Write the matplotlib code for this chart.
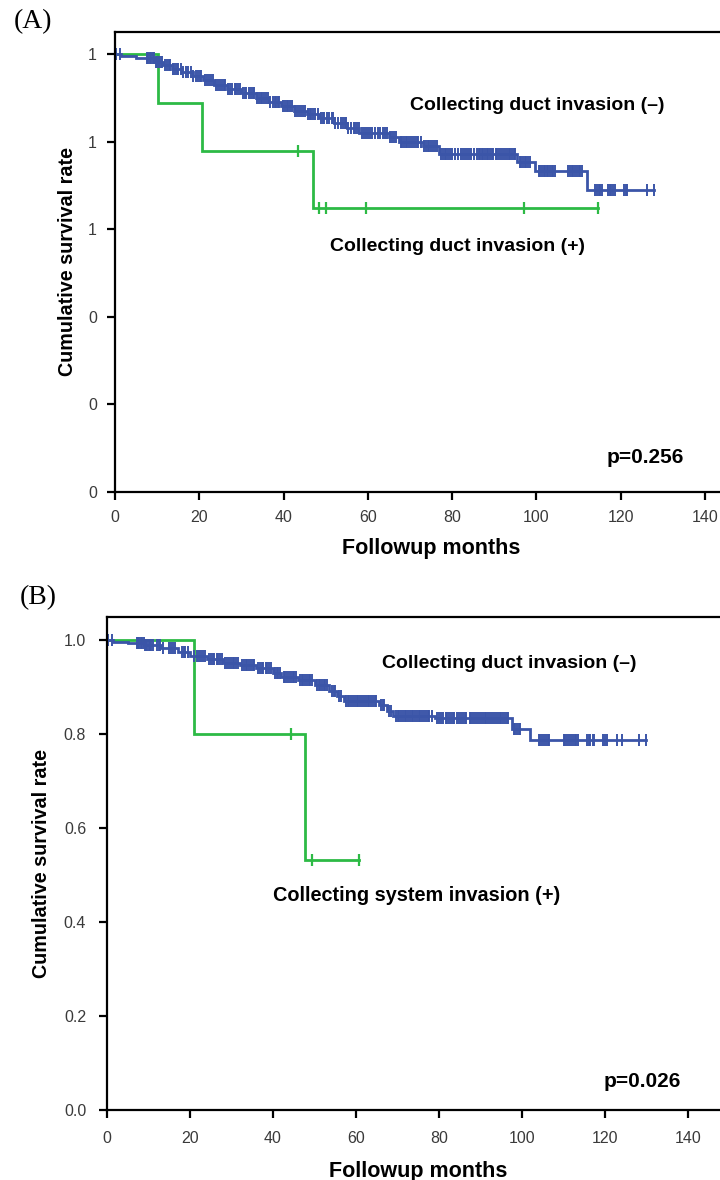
import numpy as np
import matplotlib
matplotlib.use("Agg")
import matplotlib.pyplot as plt

# ---------------- Panel A: collecting duct invasion ----------------
a_neg_times = [0, 1.5, 5.0, 9.5, 11.5, 13.5, 16.0, 18.5, 21.0, 23.5, 26.5, 30.0,
               33.5, 36.5, 39.5, 42.5, 45.5, 48.5, 52.0, 55.0, 58.0, 65.0, 67.5,
               73.0, 77.0, 95.4, 99.7, 112.0]
a_neg_surv = [1.0, 0.996, 0.991, 0.982, 0.974, 0.966, 0.958, 0.950, 0.940, 0.930,
              0.920, 0.910, 0.900, 0.891, 0.880, 0.870, 0.862, 0.853, 0.843, 0.832,
              0.820, 0.811, 0.800, 0.790, 0.771, 0.753, 0.732, 0.689]
a_neg_cens = [0.3, 1.2, 7.5, 7.9, 8.2, 8.6, 8.9, 9.3, 9.7, 10.0, 10.4, 10.8, 11.1,
              11.9, 12.3, 12.7, 13.0, 13.8, 14.2, 14.7, 15.0, 15.6, 16.1, 16.8, 17.4,
              18.0, 18.6, 19.2, 19.7, 20.1, 20.5, 21.4, 21.9, 22.4, 22.8, 23.3, 23.9,
              24.5, 25.0, 25.3, 25.8, 26.0, 26.7, 27.2, 27.8, 28.4, 28.8, 29.1, 29.6,
              30.4, 30.8, 31.2, 31.8, 32.3, 32.7, 33.0, 33.6, 34.1, 34.6, 35.0, 35.4,
              35.8, 36.2, 36.9, 37.5, 37.9, 38.2, 38.6, 39.0, 39.8, 40.3, 40.7, 41.1,
              41.6, 42.0, 42.8, 43.2, 43.7, 44.1, 44.6, 45.0, 45.8, 46.2, 46.6, 47.0,
              47.5, 48.1, 48.8, 49.3, 49.7, 50.2, 50.7, 51.4, 51.8, 52.3, 52.9, 53.6,
              54.0, 54.5, 54.9, 55.3, 56.0, 56.6, 57.0, 57.4, 57.8, 58.5, 59.0, 59.6,
              60.1, 60.5, 61.0, 61.8, 62.4, 63.0, 63.6, 64.1, 64.6, 65.2, 65.7, 66.3,
              66.8, 67.9, 68.2, 68.6, 69.0, 69.4, 69.8, 70.2, 70.7, 71.2, 71.6, 72.0,
              72.5, 73.4, 73.8, 74.2, 74.6, 75.0, 75.5, 76.0, 76.5, 77.4, 77.8, 78.2,
              78.6, 79.0, 79.5, 80.0, 80.8, 81.3, 82.0, 82.6, 83.1, 83.6, 84.0, 84.5,
              85.2, 85.8, 86.3, 86.7, 87.0, 87.4, 87.8, 88.2, 88.6, 89.0, 89.4, 89.8,
              90.3, 90.7, 91.1, 91.5, 92.0, 92.5, 93.0, 93.4, 93.8, 94.2, 94.6, 95.0,
              96.0, 96.4, 96.8, 97.2, 97.6, 98.0, 98.4, 100.5, 100.9, 101.3, 101.7,
              102.0, 102.4, 102.8, 103.2, 103.6, 104.0, 104.5, 107.6, 108.0, 108.4,
              108.8, 109.2, 109.6, 110.0, 110.4, 110.8, 114.0, 114.4, 114.8, 115.2,
              115.6, 117.0, 117.4, 117.8, 118.2, 118.6, 120.9, 121.3, 121.6, 126.2,
              127.8]
a_pos_times = [0, 10.2, 20.7, 47.0]
a_pos_surv = [1.0, 0.889, 0.778, 0.648]
a_pos_cens = [43.5, 48.3, 50.1, 59.5, 97.0, 114.7]

# ---------------- Panel B: collecting system invasion ----------------
b_neg_times = [0, 1.5, 5.0, 9.0, 13.0, 17.0, 20.0, 24.0, 28.0, 32.0, 36.0, 40.0,
               42.0, 46.0, 50.0, 53.5, 55.5, 57.0, 65.5, 67.5, 69.0, 79.0, 97.5,
               102.0]
b_neg_surv = [1.0, 0.997, 0.994, 0.990, 0.984, 0.975, 0.967, 0.960, 0.953, 0.947,
              0.942, 0.931, 0.922, 0.915, 0.906, 0.892, 0.882, 0.872, 0.862, 0.849,
              0.840, 0.835, 0.812, 0.789]
b_neg_cens = [0.3, 1.2, 7.2, 7.5, 7.8, 8.1, 8.4, 8.8, 9.1, 9.4, 9.7, 10.0, 10.3,
              10.6, 11.0, 12.1, 12.5, 12.8, 13.5, 15.0, 15.4, 15.8, 16.5, 18.0, 18.5,
              18.9, 19.6, 21.0, 21.6, 22.2, 22.6, 23.1, 23.6, 24.6, 25.0, 25.5, 25.9,
              26.4, 26.8, 27.2, 27.6, 28.5, 28.9, 29.4, 29.8, 30.3, 30.7, 31.2, 31.6,
              32.6, 33.0, 33.4, 33.8, 34.2, 34.6, 35.1, 35.5, 36.5, 36.9, 37.3, 37.7,
              38.2, 38.6, 39.0, 39.4, 40.5, 40.9, 41.3, 41.7, 42.6, 43.0, 43.4, 43.8,
              44.3, 44.7, 45.1, 45.5, 46.5, 46.9, 47.3, 47.7, 48.2, 48.6, 49.0, 49.4,
              50.6, 51.0, 51.4, 51.8, 52.2, 52.6, 53.0, 54.2, 54.6, 55.0, 56.0, 56.4,
              57.6, 58.0, 58.4, 58.8, 59.3, 59.7, 60.2, 60.6, 61.0, 61.4, 61.9, 62.3,
              62.8, 63.2, 63.6, 64.0, 64.5, 64.9, 66.0, 66.4, 66.8, 68.0, 68.4, 69.6,
              70.0, 70.4, 70.8, 71.3, 71.7, 72.1, 72.5, 73.0, 73.4, 73.8, 74.2, 74.7,
              75.1, 75.5, 75.9, 76.4, 76.8, 77.3, 77.7, 78.4, 79.6, 80.0, 80.5, 81.0,
              81.6, 82.0, 82.4, 82.8, 83.3, 83.7, 84.4, 84.8, 85.3, 85.7, 86.2, 86.6,
              87.4, 87.8, 88.3, 88.7, 89.2, 89.6, 90.1, 90.5, 91.0, 91.4, 91.9, 92.3,
              92.8, 93.2, 93.7, 94.1, 94.6, 95.0, 95.5, 95.9, 96.3, 96.7, 98.0, 98.4,
              98.8, 99.2, 99.6, 104.0, 104.4, 104.9, 105.3, 105.8, 106.2, 106.6,
              110.0, 110.4, 110.9, 111.3, 111.8, 112.2, 112.7, 113.1, 113.5, 115.7,
              116.1, 116.5, 117.0, 117.4, 119.5, 119.9, 120.6, 123.0, 124.0, 128.2,
              129.8]
b_pos_times = [0, 21.0, 47.8]
b_pos_surv = [1.0, 0.8, 0.533]
b_pos_cens = [44.4, 49.3, 60.8]

x_ticks = [0, 20, 40, 60, 80, 100, 120, 140]
y_ticks = [0.0, 0.2, 0.4, 0.6, 0.8, 1.0]
a_y_labels = ["0", "0", "0", "1", "1", "1"]
b_y_labels = ["0.0", "0.2", "0.4", "0.6", "0.8", "1.0"]

BLUE = "#3B55A8"
GREEN = "#2DBA45"
LABEL_FONT = "Liberation Sans"
X_MAX = 150


def km_curve(ax, times, surv, cens, color, mark_size=9, mark_width=1.4):
    times = np.asarray(times, float)
    surv = np.asarray(surv, float)
    cens = np.asarray(cens, float)
    end = max(cens.max(), times.max())
    t = np.r_[times, end]
    s = np.r_[surv, surv[-1]]
    ax.step(t, s, where="post", color=color, lw=2.0, solid_joinstyle="miter")
    idx = np.searchsorted(times, cens, side="right") - 1
    ax.plot(cens, surv[idx], ls="none", marker="|", ms=mark_size,
            mew=mark_width, color=color)


def style_axes(ax, ylabels, ylabel_pad, xlabel_pad, tick_pad):
    ax.set_xlim(0, X_MAX)
    ax.set_ylim(0, 1.05)
    ax.set_xticks(x_ticks)
    ax.set_xticklabels([str(v) for v in x_ticks])
    ax.set_yticks(y_ticks)
    ax.set_yticklabels(ylabels)
    for sp in ax.spines.values():
        sp.set_linewidth(1.6)
        sp.set_color("black")
    ax.tick_params(direction="out", length=6, width=1.6, colors="black",
                   labelcolor="#3a3a3a", labelsize=11.5, pad=tick_pad)
    for lab in ax.get_xticklabels() + ax.get_yticklabels():
        lab.set_family(LABEL_FONT)
    ax.set_xlabel("Followup months", fontsize=15.5, fontweight="bold",
                  family=LABEL_FONT, labelpad=xlabel_pad)
    ax.set_ylabel("Cumulative survival rate", fontsize=14.2, fontweight="bold",
                  family=LABEL_FONT, labelpad=ylabel_pad)


fig = plt.figure(figsize=(7.2, 11.8), dpi=100)

# Panel A
axA = fig.add_axes([115 / 720, 1 - 492 / 1180, X_MAX * 4.214 / 720, 460 / 1180])
km_curve(axA, a_pos_times, a_pos_surv, a_pos_cens, GREEN, mark_size=9, mark_width=1.6)
km_curve(axA, a_neg_times, a_neg_surv, a_neg_cens, BLUE)
style_axes(axA, a_y_labels, ylabel_pad=8, xlabel_pad=9, tick_pad=7)
axA.text(100.1, 0.883, "Collecting duct invasion (\u2013)", ha="center", va="center",
         fontsize=14, fontweight="bold", family=LABEL_FONT)
axA.text(81.2, 0.561, "Collecting duct invasion (+)", ha="center", va="center",
         fontsize=14, fontweight="bold", family=LABEL_FONT)
axA.text(125.8, 0.078, "p=0.256", ha="center", va="center",
         fontsize=15, fontweight="bold", family=LABEL_FONT)

# Panel B
axB = fig.add_axes([107 / 720, 1 - 1110 / 1180, X_MAX * 4.15 / 720, 493 / 1180])
km_curve(axB, b_pos_times, b_pos_surv, b_pos_cens, GREEN, mark_size=9, mark_width=1.6)
km_curve(axB, b_neg_times, b_neg_surv, b_neg_cens, BLUE)
style_axes(axB, b_y_labels, ylabel_pad=9, xlabel_pad=11, tick_pad=9)
axB.text(96.9, 0.951, "Collecting duct invasion (\u2013)", ha="center", va="center",
         fontsize=14, fontweight="bold", family=LABEL_FONT)
axB.text(74.5, 0.456, "Collecting system invasion (+)", ha="center", va="center",
         fontsize=14.3, fontweight="bold", family=LABEL_FONT)
axB.text(128.9, 0.0597, "p=0.026", ha="center", va="center",
         fontsize=15, fontweight="bold", family=LABEL_FONT)

# Panel tags
fig.text(33 / 720, 1 - 22 / 1180, "(A)", ha="center", va="center",
         fontsize=20, family="Liberation Serif")
fig.text(38 / 720, 1 - 598 / 1180, "(B)", ha="center", va="center",
         fontsize=20, family="Liberation Serif")

fig.savefig("out.png", dpi=100)
